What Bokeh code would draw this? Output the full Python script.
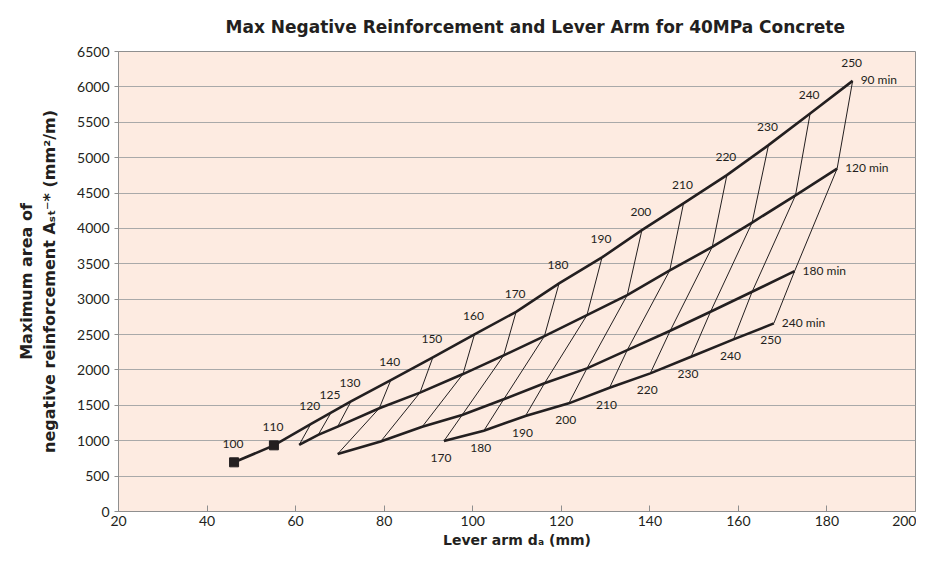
from bokeh.plotting import figure
from bokeh.models import FixedTicker, Range1d
from bokeh.core.properties import value
from bokeh.embed import file_html
from bokeh.resources import INLINE

# ---- data ----
# 90 min curve (slab thickness labels)
t90 = [100, 110, 120, 125, 130, 140, 150, 160, 170, 180, 190, 200, 210, 220, 230, 240, 250]
x90 = [46.1, 55.1, 63.4, 68.0, 72.5, 81.5, 91.0, 100.4, 109.8, 119.5, 129.2, 138.2, 147.6, 157.4, 166.8, 176.2, 185.8]
y90 = [695, 935, 1233, 1397, 1555, 1857, 2178, 2502, 2822, 3223, 3590, 3975, 4353, 4753, 5177, 5624, 6085]

# 120 min curve
t120 = [120, 125, 130, 140, 150, 160, 170, 180, 190, 200, 210, 220, 230, 240, 250]
x120 = [60.8, 65.1, 69.5, 78.9, 88.1, 97.8, 107.0, 116.2, 125.8, 134.9, 144.5, 154.1, 163.1, 172.9, 182.3]
y120 = [941, 1082, 1200, 1459, 1680, 1942, 2206, 2479, 2775, 3058, 3406, 3739, 4083, 4468, 4845]

# 180 min curve
t180 = [140, 150, 160, 170, 180, 190, 200, 210, 220, 230, 240, 250]
x180 = [69.5, 79.2, 88.6, 97.6, 107.0, 116.2, 125.8, 134.9, 144.6, 153.7, 163.1, 172.7]
y180 = [814, 988, 1198, 1363, 1585, 1811, 2022, 2281, 2554, 2822, 3105, 3397]

# 240 min curve
t240 = [170, 180, 190, 200, 210, 220, 230, 240, 250]
x240 = [93.5, 102.5, 111.9, 121.7, 130.9, 140.1, 149.3, 158.9, 168.0]
y240 = [996, 1141, 1349, 1528, 1748, 1952, 2186, 2432, 2658]

# points shown with square markers (90 min curve)
sq_t = [100, 110]

curve_names = ["90 min", "120 min", "180 min", "240 min"]

x_ticks = [20, 40, 60, 80, 100, 120, 140, 160, 180, 200]
y_ticks = [0, 500, 1000, 1500, 2000, 2500, 3000, 3500, 4000, 4500, 5000, 5500, 6000, 6500]

TITLE = "Max Negative Reinforcement and Lever Arm for 40MPa Concrete"

FONT = "Lato"
BOLD = "DejaVu Sans"
INK = "#231f20"

p = figure(width=916, height=550, x_range=Range1d(20, 200), y_range=Range1d(0, 6500),
           output_backend="svg", toolbar_location=None,
           min_border_left=118, min_border_right=1, min_border_top=51, min_border_bottom=38)

p.background_fill_color = "#fdebe1"
p.border_fill_color = "white"
p.outline_line_color = "#8f8f8f"
p.outline_line_width = 1

# title
p.title.text = TITLE
p.title.align = "left"
p.title.offset = 107
p.title.standoff = 29
p.title.text_font = BOLD
p.title.text_font_style = "bold"
p.title.text_font_size = "17px"
p.title.text_color = INK

# grid
p.xgrid.visible = False
p.ygrid.ticker = FixedTicker(ticks=y_ticks)
p.ygrid.grid_line_color = "#a9a9a9"
p.ygrid.grid_line_width = 1

# axes
p.xaxis.ticker = FixedTicker(ticks=x_ticks)
p.yaxis.ticker = FixedTicker(ticks=y_ticks)
for ax in (p.xaxis[0], p.yaxis[0]):
    ax.axis_line_color = "#8f8f8f"
    ax.major_tick_line_color = "#8f8f8f"
    ax.minor_tick_line_color = None
    ax.major_label_text_font = FONT
    ax.major_label_text_font_size = "14px"
    ax.major_label_text_color = INK
    ax.axis_label_text_font = BOLD
    ax.axis_label_text_font_style = "bold"
    ax.axis_label_text_color = INK
p.xaxis.major_tick_in = 6
p.xaxis.major_tick_out = 0
p.xaxis.major_label_standoff = 4
p.xaxis.axis_label_text_font_size = "14px"
p.yaxis.axis_label_text_font_size = "16px"
p.yaxis.major_tick_in = 0
p.yaxis.major_tick_out = 4
p.xaxis.axis_label = "Lever arm d\u2090 (mm)"
p.xaxis.axis_label_standoff = 3
p.yaxis.axis_label = "Maximum area of\nnegative reinforcement A\u209b\u209c\u207b* (mm\u00b2/m)"
p.yaxis.axis_label_standoff = 15

# lookup tables
curves = [
    (dict(zip(t90, x90)), dict(zip(t90, y90))),
    (dict(zip(t120, x120)), dict(zip(t120, y120))),
    (dict(zip(t180, x180)), dict(zip(t180, y180))),
    (dict(zip(t240, x240)), dict(zip(t240, y240))),
]

# thin constant-thickness lines
xs, ys = [], []
for t in t90:
    px, py = [], []
    for cx, cy in curves:
        if t in cx:
            px.append(cx[t])
            py.append(cy[t])
    if len(px) > 1:
        xs.append(px)
        ys.append(py)
p.multi_line(xs, ys, line_color=INK, line_width=1)

# thick fire-rating curves
for cxl, cyl in ((x90, y90), (x120, y120), (x180, y180), (x240, y240)):
    p.line(cxl, cyl, line_color=INK, line_width=2.6, line_join="miter")

# square markers
p.scatter([curves[0][0][t] for t in sq_t], [curves[0][1][t] for t in sq_t],
          marker="square", size=9, color=INK)

# thickness labels above the 90 min curve
p.text(x90, y90, text=[str(t) for t in t90], text_font=value(FONT), text_font_size="12px",
       text_color=INK, text_align="center", text_baseline="middle", x_offset=-1, y_offset=-18)

# thickness labels below the 240 min curve
p.text(x240, y240, text=[str(t) for t in t240], text_font=value(FONT), text_font_size="12px",
       text_color=INK, text_align="center", text_baseline="middle", x_offset=-3, y_offset=17)

# curve-end labels
ends_x = [x90[-1], x120[-1], x180[-1], x240[-1]]
ends_y = [y90[-1], y120[-1], y180[-1], y240[-1]]
p.text(ends_x, ends_y, text=curve_names, text_font=value(FONT), text_font_size="12px",
       text_color=INK, text_align="left", text_baseline="middle", x_offset=8, y_offset=-1)

open("out.html", "w").write(file_html(p, INLINE))
